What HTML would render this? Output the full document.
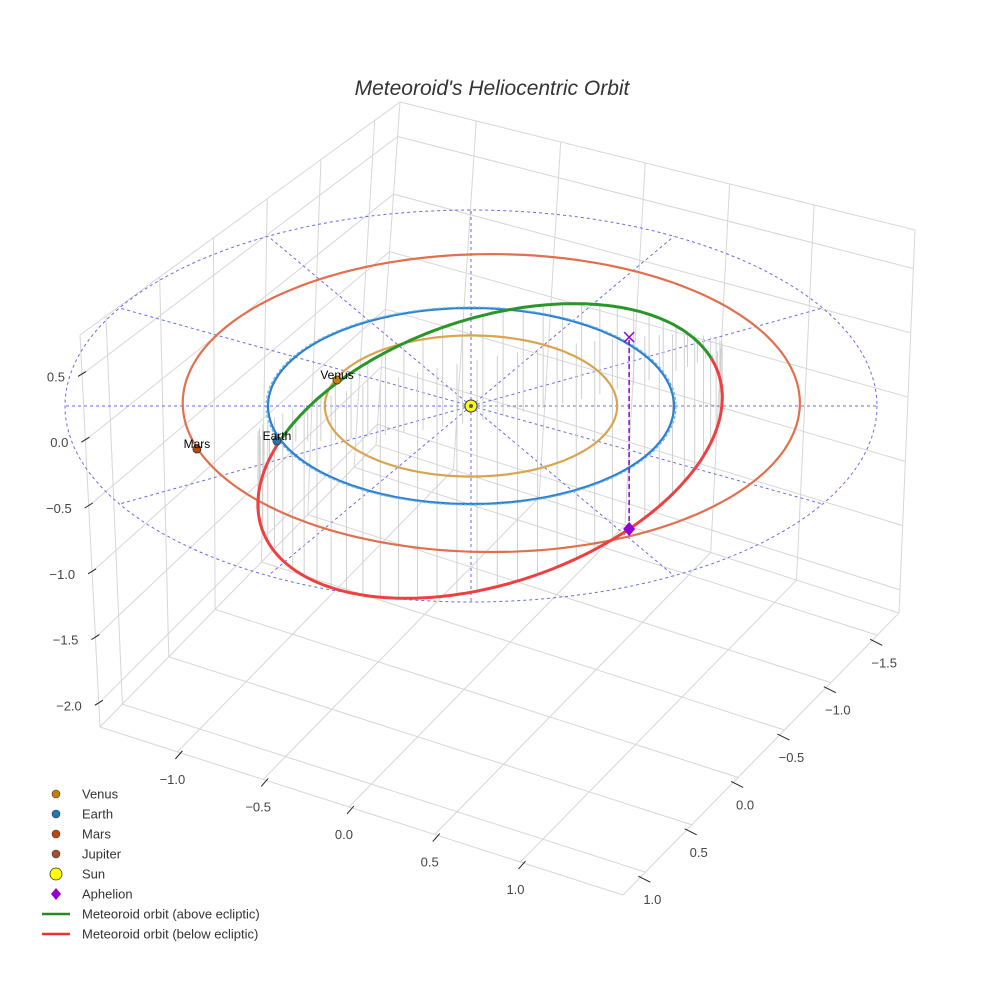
<!DOCTYPE html>
<html><head><meta charset="utf-8"><title>Meteoroid's Heliocentric Orbit</title>
<style>
html,body{margin:0;padding:0;background:#fff;}
svg{display:block;font-family:"Liberation Sans",Arial,sans-serif;}
</style></head>
<body>
<svg id="chart" width="984" height="984" viewBox="0 0 984 984" xmlns="http://www.w3.org/2000/svg">
<rect x="0" y="0" width="984" height="984" fill="#fff"/>
<text x="492" y="95" text-anchor="middle" font-size="21" font-style="italic" fill="#333">Meteoroid's Heliocentric Orbit</text>
<g id="box"></g>
<g id="plot"></g>
<g id="legend"></g>
</svg>
<script>
// ---- data ----
const xTicks = [-1.0, -0.5, 0.0, 0.5, 1.0];
const xTickLabels = ["\u22121.0", "\u22120.5", "0.0", "0.5", "1.0"];
const yTicks = [1.0, 0.5, 0.0, -0.5, -1.0, -1.5];
const yTickLabels = ["1.0", "0.5", "0.0", "\u22120.5", "\u22121.0", "\u22121.5"];
const zTicks = [0.5, 0.0, -0.5, -1.0, -1.5, -2.0];
const zTickLabels = ["0.5", "0.0", "\u22120.5", "\u22121.0", "\u22121.5", "\u22122.0"];
const ringNames = ["venus-orbit", "earth-orbit", "mars-orbit"];
const ringRadii = [0.72, 1.0, 1.52];
const ringColors = ["#d9a44e", "#2f7fcf", "#e0704e"];
const guideRadius = [2.0];
const spokeAngles = [0, 30, 60, 90, 120, 150, 180, 210, 240, 270, 300, 330];
const planetNames = ["Venus", "Earth", "Mars"];
const planetU = [-0.66, -0.956, -1.35];
const planetV = [-0.265, 0.357, 0.44];
const planetColors = ["#c87f0a", "#1f77b4", "#c1440e"];
const orbitCenter = [0.094, -0.184, -0.525];
const orbitAxisA = [-0.685, 0.519, 1.074];
const orbitAxisB = [-0.916, 0.172, -0.901];
const aphelionAnomaly = [180];
const legendLabels = ["Venus", "Earth", "Mars", "Jupiter", "Sun", "Aphelion", "Meteoroid orbit (above ecliptic)", "Meteoroid orbit (below ecliptic)"];

// ---- projection ----
const NS = "http://www.w3.org/2000/svg";
function P(u, v, z) { return [471 + 203 * u, 406 + 98 * v - 120 * z]; }
function mk(parent, tag, attrs) {
  const e = document.createElementNS(NS, tag);
  for (const k in attrs) e.setAttribute(k, attrs[k]);
  parent.appendChild(e);
  return e;
}
function lerp(a, b, t) { return [a[0] + (b[0] - a[0]) * t, a[1] + (b[1] - a[1]) * t]; }

const box = document.getElementById('box');
const plot = document.getElementById('plot');
const legend = document.getElementById('legend');

const FL = [100, 727], FF = [623, 895], FR = [899, 613], FB = [376, 445];
const TL = [80, 335], TB = [400, 102], TR = [915, 230];
function xT(x) { return 0.476 + x * 0.328; }
function yT(y) { return 0.417 - y * 0.336; }
function zT(z) { return (z + 2.18) / 2.98; }

function gl(a, b, name) {
  const l = mk(box, 'line', {x1: a[0], y1: a[1], x2: b[0], y2: b[1], stroke: '#d6d6d6', 'stroke-width': 1});
  
  
}
gl(FL, FF, 'floor-edge'); gl(FF, FR, 'floor-edge'); gl(FL, FB, 'floor-edge'); gl(FB, FR, 'floor-edge');
gl(FL, TL, 'wall-edge'); gl(FB, TB, 'wall-edge'); gl(FR, TR, 'wall-edge'); gl(TL, TB, 'wall-edge'); gl(TB, TR, 'wall-edge');
xTicks.forEach(function (x) {
  const a = lerp(FL, FF, xT(x)), b = lerp(FB, FR, xT(x)), c = lerp(TB, TR, xT(x));
  gl(a, b, 'x-grid-line'); gl(b, c, 'x-grid-line');
});
yTicks.forEach(function (y) {
  const a = lerp(FF, FR, yT(y)), b = lerp(FL, FB, yT(y)), c = lerp(TL, TB, yT(y));
  gl(a, b, 'y-grid-line'); gl(b, c, 'y-grid-line');
});
zTicks.forEach(function (z) {
  const t = zT(z);
  const l = lerp(FL, TL, t), bk = lerp(FB, TB, t), r = lerp(FR, TR, t);
  gl(l, bk, 'z-grid-line'); gl(bk, r, 'z-grid-line');
});
function tick(a, b, lp, txt, name, anchor) {
  const l = mk(box, 'line', {x1: a[0], y1: a[1], x2: b[0], y2: b[1], stroke: '#222', 'stroke-width': 1});
  
  
  const t = mk(box, 'text', {x: lp[0], y: lp[1], 'font-size': 13, fill: '#444', 'text-anchor': anchor});
  t.textContent = txt;
  
  
}
xTicks.forEach(function (x, i) {
  const p = lerp(FL, FF, xT(x));
  tick([p[0] + 5, p[1] - 1], [p[0] - 2, p[1] + 7], [p[0] - 5, p[1] + 32], xTickLabels[i], 'x-axis', 'middle');
});
yTicks.forEach(function (y, i) {
  const p = lerp(FF, FR, yT(y));
  tick([p[0] - 7, p[1] + 4], [p[0] + 5, p[1] + 10], [p[0] + 7, p[1] + 32], yTickLabels[i], 'y-axis', 'middle');
});
zTicks.forEach(function (z, i) {
  const p = lerp(FL, TL, zT(z));
  tick([p[0] + 4, p[1] - 3], [p[0] - 4, p[1] + 2], [p[0] - 17, p[1] + 7], zTickLabels[i], 'z-axis', 'end');
});

function ringPath(r, cu, cv) {
  let d = '';
  for (let a = 0; a <= 360; a += 2) {
    const t = a * Math.PI / 180;
    const p = P(cu + r * Math.cos(t), cv + r * Math.sin(t), 0);
    d += (a === 0 ? 'M' : 'L') + p[0].toFixed(1) + ',' + p[1].toFixed(1);
  }
  return d;
}
const guide = mk(plot, 'path', {d: ringPath(guideRadius[0], 0, 0), fill: 'none', stroke: '#6a6ae8', 'stroke-width': 1, 'stroke-dasharray': '3,3'});


spokeAngles.forEach(function (a) {
  const t = a * Math.PI / 180;
  const c = P(0, 0, 0), e = P(guideRadius[0] * Math.cos(t), guideRadius[0] * Math.sin(t), 0);
  const l = mk(plot, 'line', {x1: c[0], y1: c[1], x2: e[0], y2: e[1], stroke: '#6a6ae8', 'stroke-width': 1, 'stroke-dasharray': '3,3'});
  
  
});

function orbitPt(E) {
  const t = E * Math.PI / 180, c = Math.cos(t), s = Math.sin(t);
  return [0, 1, 2].map(function (k) { return orbitCenter[k] + orbitAxisA[k] * c + orbitAxisB[k] * s; });
}
for (let E = 0; E < 360; E += 5) {
  const q = orbitPt(E);
  const a = P(q[0], q[1], q[2]), b = P(q[0], q[1], 0);
  const l = mk(plot, 'line', {x1: a[0], y1: a[1], x2: b[0], y2: b[1], stroke: '#cfcfcf', 'stroke-width': 1});
  
  
}

ringRadii.forEach(function (r, i) {
  const cu = i === 2 ? 0.1 : 0, cv = i === 2 ? -0.03 : 0;
  const p = mk(plot, 'path', {d: ringPath(r, cu, cv), fill: 'none', stroke: ringColors[i], 'stroke-width': 2.2});
  
  
});
const eDash = mk(plot, 'path', {d: ringPath(ringRadii[1] * 1.01, 0, 0), fill: 'none', stroke: '#6ab8e6', 'stroke-width': 1.2, 'stroke-dasharray': '3,2'});



let segs = [], cur = null;
for (let E = 0; E <= 360; E += 1) {
  const q = orbitPt(E), p = P(q[0], q[1], q[2]);
  const above = q[2] >= 0;
  if (!cur || cur.above !== above) {
    const prev = cur ? cur.pts[cur.pts.length - 1] : null;
    cur = {above: above, pts: prev ? [prev] : []};
    segs.push(cur);
  }
  cur.pts.push(p);
}
segs.forEach(function (s) {
  const d = s.pts.map(function (p, i) { return (i ? 'L' : 'M') + p[0].toFixed(1) + ',' + p[1].toFixed(1); }).join('');
  const path = mk(plot, 'path', {d: d, fill: 'none', stroke: s.above ? '#2a962a' : '#ee4040', 'stroke-width': 3, 'stroke-linejoin': 'round'});
  
  
});

const aq = orbitPt(aphelionAnomaly[0]);
const ap = P(aq[0], aq[1], aq[2]), ae = P(aq[0], aq[1], 0);
const apl = mk(plot, 'line', {x1: ap[0], y1: ap[1], x2: ae[0], y2: ae[1], stroke: '#9400d3', 'stroke-width': 1.5, 'stroke-dasharray': '5,3'});


const ax = mk(plot, 'path', {d: 'M' + (ae[0] - 5) + ',' + (ae[1] - 5) + 'L' + (ae[0] + 5) + ',' + (ae[1] + 5) + 'M' + (ae[0] + 5) + ',' + (ae[1] - 5) + 'L' + (ae[0] - 5) + ',' + (ae[1] + 5), stroke: '#9400d3', 'stroke-width': 1.5});


const ad = mk(plot, 'path', {d: 'M' + ap[0] + ',' + (ap[1] - 7) + 'L' + (ap[0] + 6) + ',' + ap[1] + 'L' + ap[0] + ',' + (ap[1] + 7) + 'L' + (ap[0] - 6) + ',' + ap[1] + 'Z', fill: '#9400d3'});



planetNames.forEach(function (n, i) {
  const p = P(planetU[i], planetV[i], 0);
  const c = mk(plot, 'circle', {cx: p[0], cy: p[1], r: 4, fill: planetColors[i], stroke: '#333', 'stroke-width': 0.8});
  
  
  const t = mk(plot, 'text', {x: p[0], y: p[1] - 1, 'font-size': 12, fill: '#000', 'text-anchor': 'middle'});
  t.textContent = n;
  
  
});
const sp = P(0, 0, 0);
const sun = mk(plot, 'circle', {cx: sp[0], cy: sp[1], r: 6, fill: '#ffff00', stroke: '#333', 'stroke-width': 1});


const sunc = mk(plot, 'circle', {cx: sp[0], cy: sp[1], r: 2, fill: '#555'});



legendLabels.forEach(function (lab, i) {
  const y = 794 + i * 20;
  const g = mk(legend, 'g', {});
  
  
  let m;
  if (i < 4) {
    m = mk(g, 'circle', {cx: 56, cy: y, r: 4, fill: ['#c87f0a', '#1f77b4', '#c1440e', '#a0522d'][i], stroke: '#333', 'stroke-width': 0.6});
  } else if (i === 4) {
    m = mk(g, 'circle', {cx: 56, cy: y, r: 6, fill: '#ffff00', stroke: '#333', 'stroke-width': 0.8});
  } else if (i === 5) {
    m = mk(g, 'path', {d: 'M56,' + (y - 6) + 'L61,' + y + 'L56,' + (y + 6) + 'L51,' + y + 'Z', fill: '#9400d3'});
  } else {
    m = mk(g, 'line', {x1: 42, y1: y, x2: 70, y2: y, stroke: i === 6 ? '#228b22' : '#ee3030', 'stroke-width': 2.5});
  }
  
  
  const t = mk(g, 'text', {x: 82, y: y + 4.5, 'font-size': 13, fill: '#333'});
  t.textContent = lab;
  
  
});
</script>
</body></html>
